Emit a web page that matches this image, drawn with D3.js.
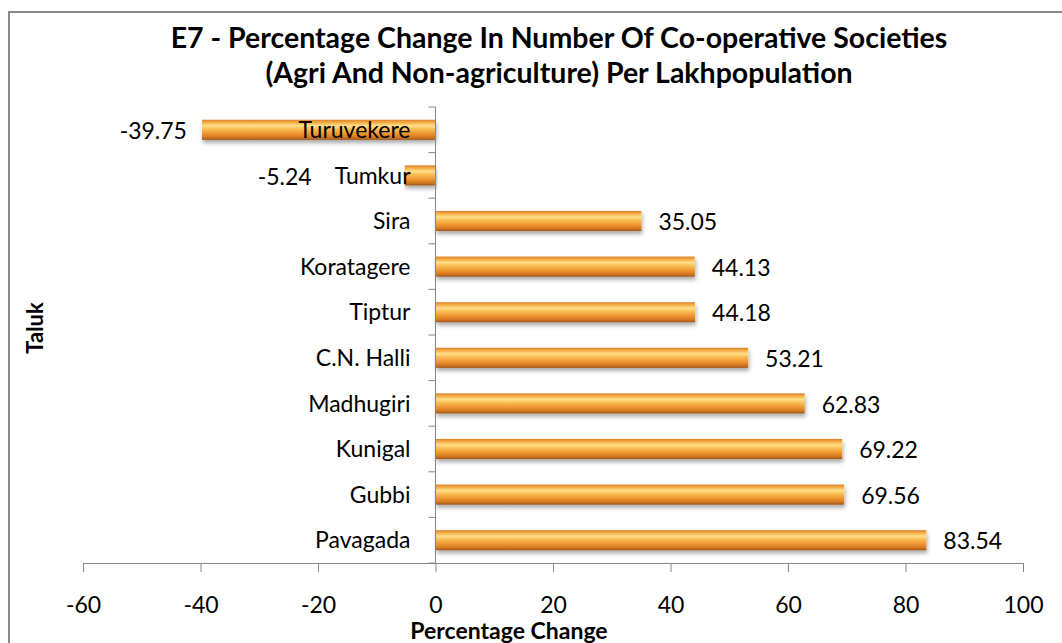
<html>
  <head>
    <meta charset="utf-8">
    <style>
      body {
        margin: 0;
        background: #ffffff;
      }
      text {
        font-family: Lato, "Open Sans", sans-serif;
        fill: #000;
      }
      .axis path,
      .axis line {
        stroke: #868686;
      }
    </style>
  </head>
  <body>
    <div id="chart"></div>
    <script src="https://d3js.org/d3.v7.min.js"></script>
    <script>
      var taluks = ["Turuvekere", "Tumkur", "Sira", "Koratagere", "Tiptur",
        "C.N. Halli", "Madhugiri", "Kunigal", "Gubbi", "Pavagada"];
      var changes = [-39.75, -5.24, 35.05, 44.13, 44.18, 53.21, 62.83, 69.22, 69.56, 83.54];
      var xTicks = [-60, -40, -20, 0, 20, 40, 60, 80, 100];

      var width = 1062,
        height = 643;

      var svg = d3.select("#chart")
        .append("svg")
        .attr("width", width)
        .attr("height", height);

      var defs = svg.append("defs");

      // cylinder look for the bars
      var grad = defs.append("linearGradient")
        .attr("id", "barGrad")
        .attr("x1", 0).attr("y1", 0)
        .attr("x2", 0).attr("y2", 1);
      [[0, "#d9822b"], [0.12, "#f5a840"], [0.3, "#ffe08a"], [0.45, "#fbbf55"],
        [0.7, "#ee9430"], [0.88, "#d27620"], [1, "#9c5418"]].forEach(function (s) {
        grad.append("stop").attr("offset", s[0]).attr("stop-color", s[1]);
      });

      var shadow = defs.append("filter")
        .attr("id", "shadow")
        .attr("x", "-5%").attr("y", "-40%")
        .attr("width", "110%").attr("height", "200%");
      shadow.append("feGaussianBlur").attr("in", "SourceAlpha").attr("stdDeviation", 2);
      shadow.append("feOffset").attr("dx", 1).attr("dy", 3).attr("result", "off");
      shadow.append("feComponentTransfer").append("feFuncA").attr("type", "linear").attr("slope", 0.35);
      var merge = shadow.append("feMerge");
      merge.append("feMergeNode");
      merge.append("feMergeNode").attr("in", "SourceGraphic");

      // chart frame
      svg.append("rect")
        .attr("x", 9)
        .attr("y", 12)
        .attr("width", 1200)
        .attr("height", 800)
        .attr("fill", "none")
        .attr("stroke", "#8a8a8a")
        .attr("stroke-width", 2);

      var margin = { top: 107, bottom: 563, left: 83, right: 1023 };

      var x = d3.scaleLinear()
        .domain([-60, 100])
        .range([margin.left, margin.right]);

      var y = d3.scaleBand()
        .domain(taluks)
        .range([margin.top, margin.bottom])
        .paddingInner(0.56)
        .paddingOuter(0.28);

      var data = taluks.map(function (t, i) {
        return { taluk: t, value: changes[i] };
      });

      // x axis
      var xAxis = svg.append("g")
        .attr("class", "axis")
        .attr("transform", "translate(0," + margin.bottom + ")")
        .call(d3.axisBottom(x)
          .tickValues(xTicks)
          .tickFormat(function (d) { return String(d); })
          .tickSize(9)
          .tickSizeOuter(0)
          .tickPadding(25));
      xAxis.selectAll("text").style("font-size", "23px").style("font-family", "Lato, sans-serif");

      // bars
      svg.append("g")
        .selectAll("rect")
        .data(data)
        .enter()
        .append("rect")
        .attr("x", function (d) { return x(Math.min(0, d.value)); })
        .attr("y", function (d) { return y(d.taluk); })
        .attr("width", function (d) { return Math.abs(x(d.value) - x(0)); })
        .attr("height", y.bandwidth())
        .attr("fill", "url(#barGrad)")
        .attr("filter", "url(#shadow)");

      // y axis line and category boundary ticks
      var yAxis = svg.append("g").attr("class", "axis");
      yAxis.append("line")
        .attr("x1", x(0)).attr("x2", x(0))
        .attr("y1", margin.top).attr("y2", margin.bottom);
      var step = y.step();
      var bounds = taluks.map(function (t) { return y(t) - y.paddingOuter() * step; });
      bounds.push(margin.bottom);
      yAxis.selectAll("line.tick")
        .data(bounds)
        .enter()
        .append("line")
        .attr("class", "tick")
        .attr("x1", x(0) - 7).attr("x2", x(0))
        .attr("y1", function (d) { return d; })
        .attr("y2", function (d) { return d; });

      // category labels next to the axis
      var catLabels = svg.append("g")
        .selectAll("text")
        .data(data)
        .enter()
        .append("text")
        .attr("x", x(0) - 25)
        .attr("y", function (d) { return y(d.taluk) + y.bandwidth() / 2; })
        .attr("dy", "0.36em")
        .attr("text-anchor", "end")
        .style("font-size", "23px")
        .text(function (d) { return d.taluk; });

      // remember where each category label starts
      catLabels.each(function (d) {
        d.labelLeft = x(0) - 25 - this.getComputedTextLength();
      });

      // value labels; a short negative bar pushes its label past the category name
      svg.append("g")
        .selectAll("text")
        .data(data)
        .enter()
        .append("text")
        .attr("x", function (d) {
          if (d.value >= 0) return x(d.value) + 17;
          return Math.min(x(d.value) - 15, d.labelLeft - 23);
        })
        .attr("y", function (d) { return y(d.taluk) + y.bandwidth() / 2 + 1; })
        .attr("dy", "0.36em")
        .attr("text-anchor", function (d) { return d.value < 0 ? "end" : "start"; })
        .style("font-size", "23px")
        .text(function (d) { return d.value.toFixed(2); });

      // titles
      var title = svg.append("text")
        .attr("text-anchor", "middle")
        .style("font-size", "28.5px")
        .style("font-weight", "bold");
      title.append("tspan").attr("x", 559).attr("y", 48)
        .text("E7 - Percentage Change In Number Of Co-operative Societies");
      title.append("tspan").attr("x", 559).attr("y", 83)
        .text("(Agri And Non-agriculture) Per Lakhpopulation");

      svg.append("text")
        .attr("x", 509)
        .attr("y", 639)
        .attr("text-anchor", "middle")
        .style("font-size", "23px")
        .style("font-weight", "bold")
        .text("Percentage Change");

      svg.append("text")
        .attr("transform", "translate(43,328) rotate(-90)")
        .attr("text-anchor", "middle")
        .style("font-size", "22px")
        .style("font-weight", "bold")
        .text("Taluk");
    </script>
  </body>
</html>
